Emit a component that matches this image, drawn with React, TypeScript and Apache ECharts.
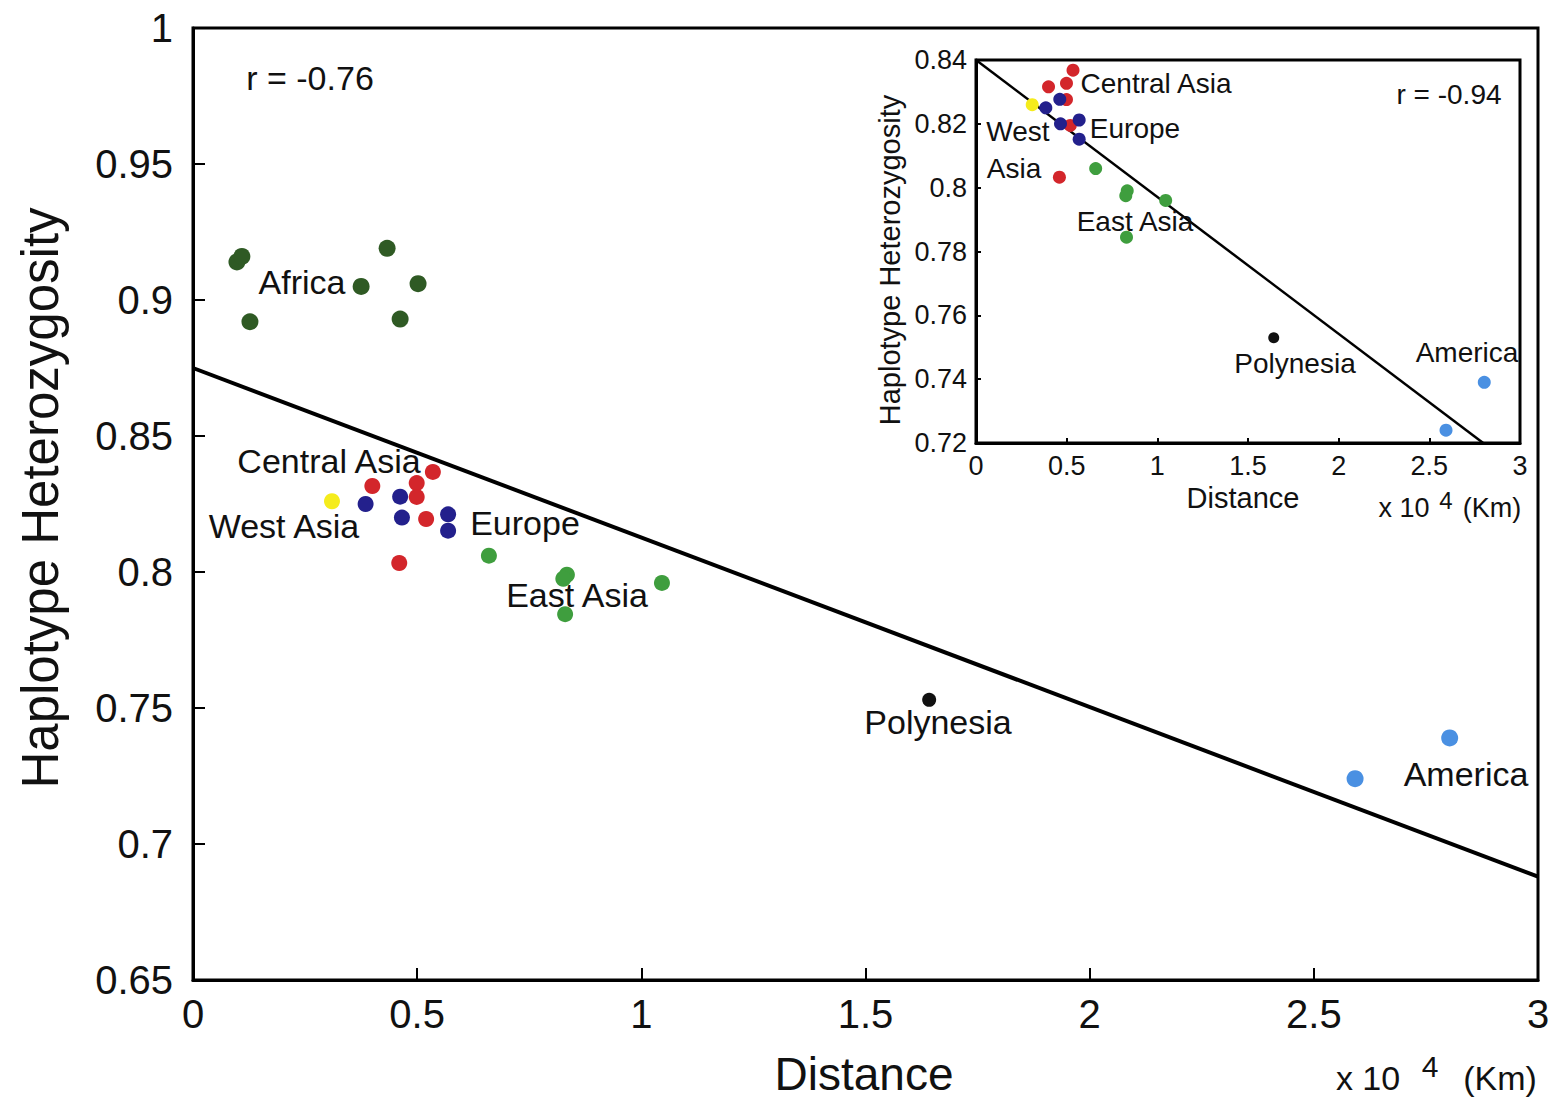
import React, { useEffect, useRef } from "react";
import * as echarts from "echarts";

// ---- Data (distance in 10^4 km, haplotype heterozygosity) ----
const africa: number[][] = [
  [0.098, 0.914], [0.109, 0.916], [0.127, 0.892], [0.433, 0.919],
  [0.375, 0.905], [0.502, 0.906], [0.462, 0.893],
];
const westAsiaYellow: number[][] = [[0.31, 0.826]];
const redPops: number[][] = [
  [0.4, 0.8316], [0.499, 0.8327], [0.499, 0.8276], [0.535, 0.8368],
  [0.52, 0.8195], [0.46, 0.8033],
];
const bluePops: number[][] = [
  [0.385, 0.825], [0.462, 0.8277], [0.466, 0.82], [0.569, 0.8212], [0.569, 0.8152],
];
const eastAsia: number[][] = [
  [0.66, 0.806], [0.834, 0.799], [0.826, 0.7975], [1.046, 0.796], [0.83, 0.7845],
];
const polynesia: number[][] = [[1.642, 0.753]];
const america: number[][] = [[2.592, 0.724], [2.803, 0.739]];

const mainFit: number[][] = [[0, 0.875], [3, 0.688]];
const insetFit: number[][] = [[0, 0.84], [2.797, 0.72]];

const mainYTicks = { min: 0.65, max: 1, interval: 0.05 };
const mainXTicks = { min: 0, max: 3, interval: 0.5 };
const insetYTicks = { min: 0.72, max: 0.84, interval: 0.02 };
const insetXTicks = { min: 0, max: 3, interval: 0.5 };

const FONT = "'Liberation Sans', Arial, Helvetica, sans-serif";

const colors = {
  africa: "#2f5a24",
  red: "#d3262b",
  blue: "#23208c",
  yellow: "#f5ec1c",
  green: "#3f9e3e",
  black: "#111111",
  lightBlue: "#4a90e2",
};

function txt(text: string, x: number, y: number, size: number, extra: any = {}) {
  return {
    type: "text",
    x,
    y,
    z: 100,
    ...extra,
    style: {
      text,
      fill: "#111",
      fontSize: size,
      fontFamily: FONT,
      align: "center",
      verticalAlign: "middle",
      textAlign: "center",
      textVerticalAlign: "middle",
    },
  };
}

function axisX(gridIndex: number, ticks: any, fontSize: number, margin: number, tickLen: number) {
  return {
    gridIndex,
    type: "value",
    ...ticks,
    axisLine: { show: true, onZero: false, lineStyle: { color: "#000", width: 3 } },
    axisTick: { show: true, inside: true, length: tickLen, lineStyle: { color: "#000", width: 2 } },
    axisLabel: { fontSize, color: "#111", margin, fontFamily: FONT },
    splitLine: { show: false },
  };
}

function axisY(gridIndex: number, ticks: any, fontSize: number, margin: number, tickLen: number, padding: number[]) {
  return {
    gridIndex,
    type: "value",
    ...ticks,
    axisLine: { show: true, onZero: false, lineStyle: { color: "#000", width: 3 } },
    axisTick: { show: true, inside: true, length: tickLen, lineStyle: { color: "#000", width: 2 } },
    axisLabel: {
      fontSize,
      color: "#111",
      margin,
      fontFamily: FONT,
      padding,
      formatter: (v: number) => String(+v.toFixed(2)),
    },
    splitLine: { show: false },
  };
}

function scatter(data: number[][], color: string, size: number, idx: number, z = 5) {
  return {
    type: "scatter",
    xAxisIndex: idx,
    yAxisIndex: idx,
    data,
    symbol: "circle",
    symbolSize: size,
    itemStyle: { color, opacity: 1 },
    silent: true,
    z,
  };
}

function fitLine(data: number[][], idx: number, width: number) {
  return {
    type: "line",
    xAxisIndex: idx,
    yAxisIndex: idx,
    data,
    showSymbol: false,
    symbol: "none",
    lineStyle: { color: "#000", width },
    silent: true,
    z: 3,
  };
}

export default function App() {
  const ref = useRef<HTMLDivElement>(null);
  useEffect(() => {
    document.body.style.margin = "0";
    const chart = echarts.init(ref.current!, null, { renderer: "svg" });
    const option: any = {
      animation: false,
      backgroundColor: "#fff",
      grid: [
        { left: 193, top: 28, width: 1345, height: 952, show: true, borderColor: "#000", borderWidth: 3, backgroundColor: "transparent" },
        { left: 976, top: 60, width: 544, height: 383, show: true, borderColor: "#000", borderWidth: 3, backgroundColor: "#fff", z: 10 },
      ],
      xAxis: [
        axisX(0, mainXTicks, 40, 14, 12),
        { ...axisX(1, insetXTicks, 27, 9, 5), z: 11 },
      ],
      yAxis: [
        axisY(0, mainYTicks, 40, 20, 12, [0, 0, 0, 0]),
        { ...axisY(1, insetYTicks, 27, 9, 5, [0, 0, 14, 0]), z: 11 },
      ],
      series: [
        fitLine(mainFit, 0, 4),
        scatter(africa, colors.africa, 17, 0),
        scatter(redPops, colors.red, 16, 0),
        scatter(bluePops, colors.blue, 16, 0),
        scatter(westAsiaYellow, colors.yellow, 16, 0),
        scatter(eastAsia, colors.green, 16, 0),
        scatter(polynesia, colors.black, 14, 0),
        scatter(america, colors.lightBlue, 17, 0),

        { ...fitLine(insetFit, 1, 2.5), z: 12 },
        scatter(redPops, colors.red, 13, 1, 13),
        scatter(bluePops, colors.blue, 13, 1, 13),
        scatter(westAsiaYellow, colors.yellow, 13, 1, 13),
        scatter(eastAsia, colors.green, 13, 1, 13),
        scatter(polynesia, colors.black, 11, 1, 13),
        scatter(america, colors.lightBlue, 13, 1, 13),
      ],
      graphic: [
        // main chart texts
        txt("Haplotype Heterozygosity", 40, 498, 51, { rotation: Math.PI / 2 }),
        txt("Distance", 864, 1074, 46),
        txt("x 10", 1368, 1078, 34),
        txt("4", 1430, 1066, 30),
        txt("(Km)", 1500, 1078, 34),
        txt("r = -0.76", 310, 78, 34),
        txt("Africa", 302, 282, 34),
        txt("Central Asia", 329, 461, 34),
        txt("West Asia", 284, 526, 34),
        txt("Europe", 525, 523, 34),
        txt("East Asia", 577, 595, 34),
        txt("Polynesia", 938, 722, 34),
        txt("America", 1466, 774, 34),
        // inset texts
        txt("Haplotype Heterozygosity", 890, 260, 29, { rotation: Math.PI / 2 }),
        txt("Distance", 1243, 498, 29),
        txt("x 10", 1404, 508, 27),
        txt("4", 1446, 500, 24),
        txt("(Km)", 1492, 508, 27),
        txt("r = -0.94", 1449, 94, 28),
        txt("Central Asia", 1156, 83, 28),
        txt("West", 1018, 131, 28),
        txt("Asia", 1014, 168, 28),
        txt("Europe", 1135, 128, 28),
        txt("East Asia", 1135, 221, 28),
        txt("Polynesia", 1295, 363, 28),
        txt("America", 1467, 352, 28),
      ],
    };
    chart.setOption(option);
    return () => chart.dispose();
  }, []);
  return <div ref={ref} style={{ width: 1556, height: 1103 }} />;
}
